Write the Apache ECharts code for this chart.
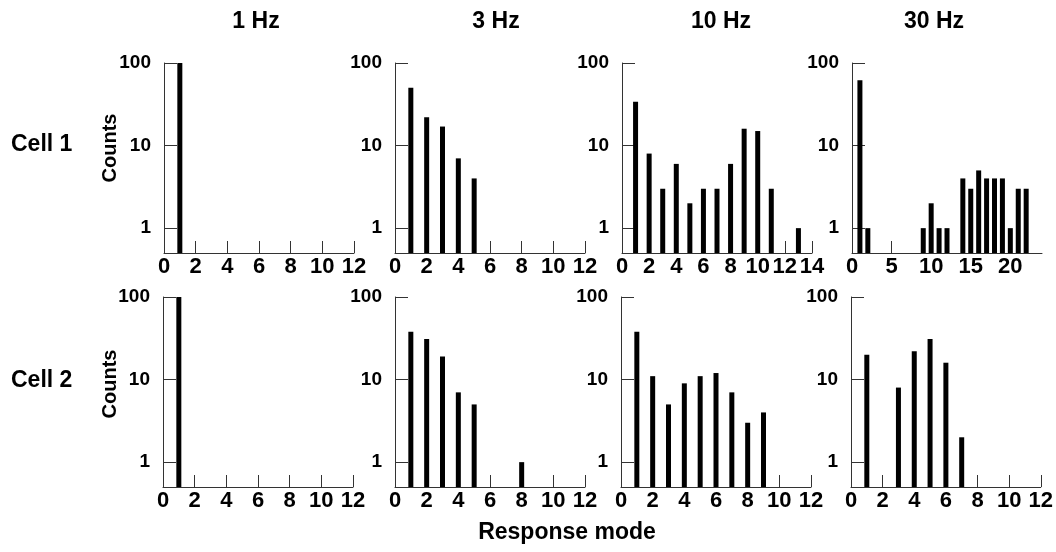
<!DOCTYPE html>
<html>
<head>
<meta charset="utf-8">
<script src="https://cdn.jsdelivr.net/npm/echarts@6/dist/echarts.min.js"></script>
<style>
  html, body { margin: 0; padding: 0; background: #fff; }
  #main { width: 1056px; height: 552px; }
</style>
</head>
<body>
<div id="main"></div>
<script>
// counts per response mode, index 0 = mode 1
var cell1_1Hz = [100];
var cell1_3Hz = [50, 22, 17, 7, 4];
var cell1_10Hz = [34, 8, 3, 6, 2, 3, 3, 6, 16, 15, 3, 0, 1];
var cell1_30Hz = [62, 1, 0, 0, 0, 0, 0, 0, 1, 2, 1, 1, 0, 4, 3, 5, 4, 4, 4, 1, 3, 3];
var cell2_1Hz = [100];
var cell2_3Hz = [38, 31, 19, 7, 5, 0, 0, 1];
var cell2_10Hz = [38, 11, 5, 9, 11, 12, 7, 3, 4];
var cell2_30Hz = [20, 0, 8, 22, 31, 16, 2];

var freqLabels = ["1 Hz", "3 Hz", "10 Hz", "30 Hz"];
var cellLabels = ["Cell 1", "Cell 2"];
var yTickValues = [1, 10, 100];
var xMax = [[12, 12, 14, 24], [12, 12, 12, 12]];
var xStep = [[2, 2, 2, 5], [2, 2, 2, 2]];

var panels = [
  [cell1_1Hz, cell1_3Hz, cell1_10Hz, cell1_30Hz],
  [cell2_1Hz, cell2_3Hz, cell2_10Hz, cell2_30Hz]
];

var myChart = echarts.init(document.getElementById("main"));
var font = "'Liberation Sans', Arial, sans-serif";
var lineColor = "#333";

var gridLefts = [[164, 395, 622, 852], [163, 395, 621, 851]];
var gridTops = [63, 297];
var titleX = [251, 491, 716, 929];

var grid = [], xAxis = [], yAxis = [], series = [];
var idx = 0;
for (var r = 0; r < 2; r++) {
  for (var c = 0; c < 4; c++) {
    grid.push({ left: gridLefts[r][c], top: gridTops[r], width: 190, height: 190 });
    xAxis.push({
      gridIndex: idx,
      type: "value",
      min: 0,
      max: xMax[r][c],
      interval: xStep[r][c],
      splitLine: { show: false },
      axisLine: { lineStyle: { color: lineColor, width: 1 } },
      axisTick: { inside: true, length: 12, lineStyle: { color: lineColor } },
      axisLabel: {
        color: "#000", fontSize: 22, fontWeight: "bold", fontFamily: font, margin: 3,
        showMaxLabel: xMax[r][c] % xStep[r][c] === 0
      }
    });
    yAxis.push({
      gridIndex: idx,
      type: "log",
      logBase: 10,
      min: 0.5,
      max: 100,
      splitLine: { show: false },
      axisLine: { show: true, lineStyle: { color: lineColor, width: 1 } },
      axisTick: { inside: true, length: 13, lineStyle: { color: lineColor }, customValues: yTickValues },
      axisLabel: {
        color: "#000", fontSize: 19, fontWeight: "bold", fontFamily: font, margin: 13,
        customValues: yTickValues
      }
    });
    var pts = [];
    panels[r][c].forEach(function (v, i) {
      if (v > 0) pts.push([i + 1, v]);
    });
    series.push({
      type: "custom",
      xAxisIndex: idx,
      yAxisIndex: idx,
      clip: false,
      data: pts,
      renderItem: function (params, api) {
        var top = api.coord([api.value(0), api.value(1)]);
        var base = api.coord([api.value(0), 0.5]);
        var w = 5;
        return {
          type: "rect",
          shape: { x: top[0] - w / 2, y: top[1], width: w, height: base[1] - top[1] },
          style: { fill: "#000" }
        };
      }
    });
    idx++;
  }
}

var titles = [];
freqLabels.forEach(function (t, i) {
  titles.push({
    text: t, left: titleX[i], top: 5, textAlign: "center",
    textStyle: { fontSize: 23, fontWeight: "bold", fontFamily: font, color: "#000" }
  });
});

var graphic = [];
cellLabels.forEach(function (t, i) {
  graphic.push({
    type: "text", left: 11, top: [133, 369][i],
    style: { text: t, fontSize: 23, fontWeight: "bold", fontFamily: font, fill: "#000" }
  });
  graphic.push({
    type: "text", x: 110, y: [148, 384][i], rotation: Math.PI / 2,
    style: {
      text: "Counts", fontSize: 20, fontWeight: "bold", fontFamily: font, fill: "#000",
      align: "center", verticalAlign: "middle"
    }
  });
});
graphic.push({
  type: "text", x: 567, y: 533,
  style: {
    text: "Response mode", fontSize: 23, fontWeight: "bold", fontFamily: font, fill: "#000",
    align: "center", verticalAlign: "middle"
  }
});

var option = {
  animation: false,
  title: titles,
  grid: grid,
  xAxis: xAxis,
  yAxis: yAxis,
  series: series,
  graphic: graphic
};
myChart.setOption(option);
</script>
</body>
</html>
